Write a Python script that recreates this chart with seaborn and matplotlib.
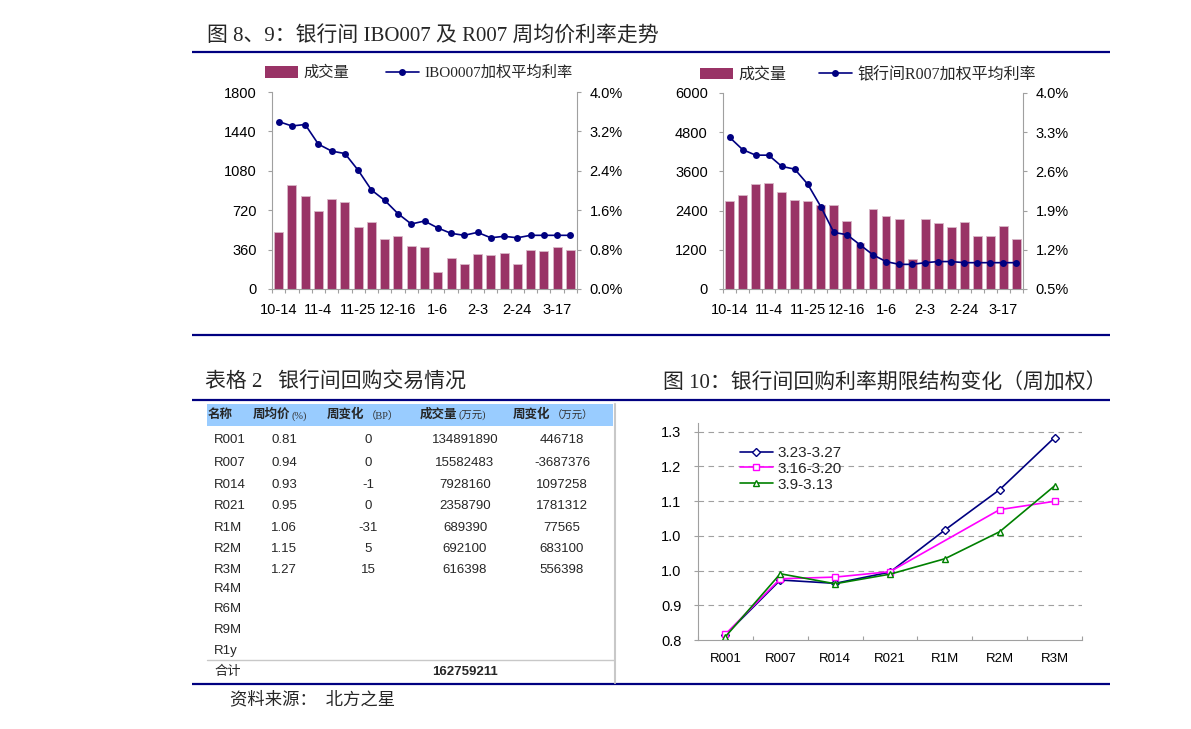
import numpy as np
import pandas as pd
import matplotlib
matplotlib.use("Agg")
import matplotlib.pyplot as plt
import seaborn as sns
from matplotlib.patches import Patch, Rectangle
from matplotlib.lines import Line2D
from matplotlib.font_manager import FontProperties

# ---------------- data ----------------
weeks = ["10-14", "10-21", "10-28", "11-4", "11-11", "11-18", "11-25", "12-2", "12-9",
         "12-16", "12-23", "12-30", "1-6", "1-13", "1-20", "2-3", "2-10", "2-17",
         "2-24", "3-3", "3-10", "3-17", "3-24"]
week_labels_shown = ["10-14", "11-4", "11-25", "12-16", "1-6", "2-3", "2-24", "3-17"]

ibo_volume = [525, 946, 854, 714, 818, 793, 564, 613, 461, 488, 397, 384, 153, 281, 229,
              320, 308, 333, 229, 357, 345, 384, 357]
ibo_rate = [3.40, 3.31, 3.34, 2.94, 2.80, 2.75, 2.41, 2.01, 1.80, 1.53, 1.32, 1.38, 1.24,
            1.13, 1.09, 1.15, 1.04, 1.07, 1.04, 1.09, 1.09, 1.09, 1.09]
ibo_vol_ticks = [0, 360, 720, 1080, 1440, 1800]
ibo_rate_ticks = [0.0, 0.8, 1.6, 2.4, 3.2, 4.0]

r007_volume = [2698, 2872, 3210, 3250, 2964, 2739, 2698, 2566, 2566, 2095, 1410, 2450, 2238,
               2147, 910, 2147, 2014, 1891, 2055, 1635, 1635, 1932, 1543]
r007_rate = [3.21, 2.99, 2.89, 2.89, 2.69, 2.64, 2.37, 1.97, 1.51, 1.47, 1.29, 1.11, 0.99,
             0.94, 0.94, 0.97, 0.99, 0.99, 0.97, 0.97, 0.97, 0.97, 0.97]
r007_vol_ticks = [0, 1200, 2400, 3600, 4800, 6000]
r007_rate_ticks = [0.5, 1.2, 1.9, 2.6, 3.3, 4.0]

tenors = ["R001", "R007", "R014", "R021", "R1M", "R2M", "R3M"]
s_0323 = [0.812, 0.944, 0.936, 0.963, 1.064, 1.161, 1.286]
s_0316 = [0.814, 0.947, 0.951, 0.964, np.nan, 1.113, 1.133]
s_0309 = [0.808, 0.959, 0.935, 0.958, 0.995, 1.060, 1.170]
series_names = ["3.23-3.27", "3.16-3.20", "3.9-3.13"]
term_tick_labels = ["0.8", "0.9", "1.0", "1.0", "1.1", "1.2", "1.3"]

tbl_head = ["名称", "周均价", "周变化", "成交量", "周变化"]
tbl_head_units = ["", "(%)", "（BP）", "(万元)", "（万元）"]
tbl_names = ["R001", "R007", "R014", "R021", "R1M", "R2M", "R3M", "R4M", "R6M", "R9M", "R1y"]
tbl_price = ["0.81", "0.94", "0.93", "0.95", "1.06", "1.15", "1.27"]
tbl_bp = ["0", "0", "-1", "0", "-31", "5", "15"]
tbl_vol = ["134891890", "15582483", "7928160", "2358790", "689390", "692100", "616398"]
tbl_volchg = ["446718", "-3687376", "1097258", "1781312", "77565", "683100", "556398"]
tbl_total_label = "合计"
tbl_total_vol = "162759211"

title_top = "图 8、9：银行间 IBO007 及 R007 周均价利率走势"
title_table = "表格 2   银行间回购交易情况"
title_term = "图 10：银行间回购利率期限结构变化（周加权）"
source_text = "资料来源：  北方之星"
legend1 = ["成交量", "IBO0007加权平均利率"]
legend2 = ["成交量", "银行间R007加权平均利率"]

# ---------------- style ----------------
sns.set_theme(style="white")
plt.rcParams['font.family'] = ['Liberation Sans', 'Noto Sans CJK SC', 'DejaVu Sans']

W, H = 1191, 729
NAVY = "#000080"
BAR = "#993366"
GREY = "#A0A0A0"
SERIF = ['Liberation Serif', 'Noto Sans CJK SC', 'DejaVu Sans']
SANS = ['Liberation Sans', 'Noto Sans CJK SC', 'DejaVu Sans']

fig = plt.figure(figsize=(W / 100, H / 100), dpi=100)
fig.patch.set_facecolor("white")

# background layer in pixel coordinates (decorations & table)
bg = fig.add_axes([0, 0, 1, 1], zorder=-1)
bg.set_xlim(0, W)
bg.set_ylim(H, 0)
bg.axis("off")


def px_axes(x0, y0, x1, y1):
    return fig.add_axes([x0 / W, 1 - y1 / H, (x1 - x0) / W, (y1 - y0) / H])


def combo_chart(ax, volume, rate, vol_ticks, rate_ticks):
    n = len(weeks)
    df = pd.DataFrame({"week": weeks, "volume": volume})
    sns.barplot(data=df, x="week", y="volume", order=weeks, color=BAR, saturation=1,
                width=0.68, edgecolor="#d9b8c8", linewidth=0.6, ax=ax)
    axr = ax.twinx()
    sns.lineplot(x=np.arange(n), y=rate, ax=axr, color=NAVY, marker="o", markersize=5,
                 markeredgewidth=0, linewidth=1.2)
    ax.set_xlim(-0.5, n - 0.5)
    ax.set_ylim(vol_ticks[0], vol_ticks[-1])
    axr.set_ylim(rate_ticks[0], rate_ticks[-1])
    ax.set_yticks(vol_ticks)
    ax.set_yticklabels([str(v) for v in vol_ticks])
    axr.set_yticks(rate_ticks)
    axr.set_yticklabels([f"{v:.1f}%" for v in rate_ticks])
    ax.set_xticks([weeks.index(w) for w in week_labels_shown])
    ax.set_xticklabels(week_labels_shown)
    ax.set_xticks(np.arange(-0.5, n, 1.0), minor=True)
    ax.set_xlabel("")
    ax.set_ylabel("")
    axr.set_ylabel("")
    ax.spines["top"].set_visible(False)
    ax.spines["right"].set_visible(False)
    for s in ["top", "left", "bottom"]:
        axr.spines[s].set_visible(False)
    for s in ["left", "bottom"]:
        ax.spines[s].set_color(GREY)
        ax.spines[s].set_linewidth(0.8)
    axr.spines["right"].set_color(GREY)
    axr.spines["right"].set_linewidth(0.8)
    ax.tick_params(axis="x", which="major", bottom=True, length=0, pad=10,
                   labelsize=10.5, labelcolor="black")
    ax.tick_params(axis="x", which="minor", bottom=True, length=3, color=GREY, width=0.8)
    ax.tick_params(axis="y", left=True, length=3, color=GREY, width=0.8, pad=8,
                   labelsize=10.5, labelcolor="black")
    axr.tick_params(axis="y", right=True, length=3, color=GREY, width=0.8, pad=6,
                    labelsize=10.5, labelcolor="black")
    return axr


# ---------------- chart 1 ----------------
ax1 = px_axes(272, 92, 577, 289)
combo_chart(ax1, ibo_volume, ibo_rate, ibo_vol_ticks, ibo_rate_ticks)

# ---------------- chart 2 ----------------
ax2 = px_axes(723, 93, 1023, 289)
combo_chart(ax2, r007_volume, r007_rate, r007_vol_ticks, r007_rate_ticks)

for labels, x0, y0, cs, fs in [(legend1, 265, 73, 2.4, 11), (legend2, 700, 75, 2.0, 11.5)]:
    handles = [Patch(facecolor=BAR, edgecolor="none"),
               Line2D([], [], color=NAVY, marker="o", markersize=5, markeredgewidth=0, lw=1.2)]
    fig.legend(handles, labels, loc="center left", bbox_to_anchor=(x0 / W, 1 - y0 / H),
               ncol=2, frameon=False, borderpad=0, borderaxespad=0, handlelength=33 / (fs * 1.389),
               handleheight=0.75, handletextpad=0.35, columnspacing=cs,
               prop=FontProperties(family=SERIF, size=fs))

# ---------------- chart 3 ----------------
ax3 = px_axes(698, 423, 1082, 640)
term_df = pd.DataFrame({"pos": np.arange(len(tenors)), "tenor": tenors,
                        series_names[0]: s_0323, series_names[1]: s_0316,
                        series_names[2]: s_0309})
styles = [(series_names[0], NAVY, "D", 4.0), (series_names[1], "#FF00FF", "s", 4.5),
          (series_names[2], "#008000", "^", 5.0)]
for name, col, mk, ms in styles:
    sub = term_df[["pos", name]].dropna()
    sns.lineplot(data=sub, x="pos", y=name, ax=ax3, color=col, marker=mk, markersize=ms,
                 markerfacecolor="white", markeredgecolor=col, markeredgewidth=1.0,
                 linewidth=1.2, label=name)
yt = [0.8 + i * 0.5 / 6 for i in range(7)]
ax3.set_ylim(0.8, 1.3209)
ax3.set_xlim(-0.5, len(tenors) - 0.5)
ax3.set_yticks(yt)
ax3.set_yticklabels(term_tick_labels)
ax3.set_xticks(np.arange(len(tenors)))
ax3.set_xticklabels(tenors)
ax3.set_xticks(np.arange(-0.5, len(tenors), 1.0), minor=True)
for v in yt[1:]:
    ax3.axhline(v, color="#A0A0A0", lw=0.8, ls=(0, (5, 4)), zorder=0)
ax3.set_xlabel("")
ax3.set_ylabel("")
for s in ["top", "right"]:
    ax3.spines[s].set_visible(False)
for s in ["left", "bottom"]:
    ax3.spines[s].set_color(GREY)
    ax3.spines[s].set_linewidth(0.8)
ax3.tick_params(axis="x", which="major", bottom=True, length=0, pad=9, labelsize=9.5,
                labelcolor="black")
ax3.tick_params(axis="x", which="minor", bottom=True, direction="in", length=3,
                color=GREY, width=0.8)
ax3.tick_params(axis="y", left=True, length=3, color=GREY, width=0.8, pad=9,
                labelsize=10.5, labelcolor="black")
ax3.legend(loc="upper left", bbox_to_anchor=(740 / W, 1 - 446 / H),
           bbox_transform=fig.transFigure, frameon=False, borderpad=0, borderaxespad=0,
           handlelength=2.15, handletextpad=0.3, labelspacing=0.12,
           prop=FontProperties(family=SANS, size=11))

# ---------------- decorations ----------------
for (x0, x1, y) in [(192, 1110, 52), (192, 1110, 335), (192, 1110, 400), (192, 1110, 684)]:
    bg.plot([x0, x1], [y, y], color=NAVY, lw=1.6, solid_capstyle="butt")

bg.text(207, 37, title_top, fontsize=15, va="center", ha="left", family=SERIF)
bg.text(205, 383, title_table, fontsize=15, va="center", ha="left", family=SERIF)
bg.text(663, 384, title_term, fontsize=15, va="center", ha="left", family=SERIF)
bg.text(230, 700, source_text, fontsize=12.5, va="center", ha="left", family=SERIF)

# ---------------- table ----------------
bg.add_patch(Rectangle((207, 404), 406, 22, facecolor="#99CCFF", edgecolor="none"))
bg.plot([615, 615], [404, 683], color="#C8C8C8", lw=1.5)
bg.plot([207, 614], [660, 660], color="#C8C8C8", lw=1.0)

renderer = fig.canvas.get_renderer()
head_x = [208, 253, 327, 420, 513]
for h, u, hx in zip(tbl_head, tbl_head_units, head_x):
    t = bg.text(hx, 415, h, fontsize=9, fontweight="bold", va="center", ha="left", family=SANS)
    if u:
        bb = t.get_window_extent(renderer=renderer)
        ux = bb.x1 + 1  # pixel coords equal data x here
        bg.text(ux, 416, u, fontsize=7.5, va="center", ha="left", family=SERIF,
                color="#333333")

row_y = [440, 463, 485, 506, 528, 549, 570, 589, 609, 630, 651]
for i, nm in enumerate(tbl_names):
    bg.text(214, row_y[i], nm, fontsize=9.5, va="center", ha="left", family=SANS)
col_cx = [284, 368, 465, 562]
for i in range(len(tbl_price)):
    for cx, col in zip(col_cx, [tbl_price, tbl_bp, tbl_vol, tbl_volchg]):
        bg.text(cx, row_y[i], col[i], fontsize=9.5, va="center", ha="center", family=SANS)
bg.text(214, 672, tbl_total_label, fontsize=9.5, va="center", ha="left", family=SANS)
bg.text(465, 672, tbl_total_vol, fontsize=9.5, fontweight="bold", va="center", ha="center",
        family=SANS)

fig.savefig("out.png", dpi=100, facecolor="white")
